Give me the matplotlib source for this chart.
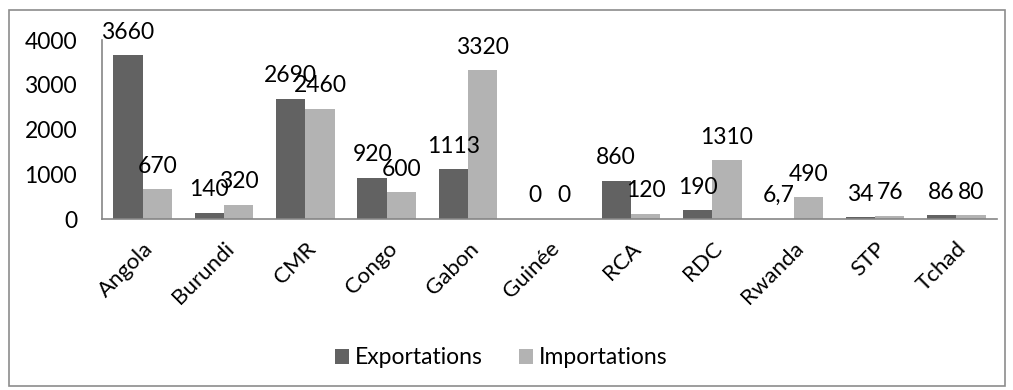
from matplotlib import pyplot as plt
from matplotlib.patches import Rectangle
import numpy as np

plt.rcParams['font.family'] = ['Lato', 'DejaVu Sans']

pays = ['Angola', 'Burundi', 'CMR', 'Congo', 'Gabon', 'Guinée', 'RCA', 'RDC',
        'Rwanda', 'STP', 'Tchad']
exportations = [3660, 140, 2690, 920, 1113, 0, 860, 190, 6.7, 34, 86]
importations = [670, 320, 2460, 600, 3320, 0, 120, 1310, 490, 76, 80]
lab_exp = ['3660', '140', '2690', '920', '1113', '0', '860', '190', '6,7', '34', '86']
lab_imp = ['670', '320', '2460', '600', '3320', '0', '120', '1310', '490', '76', '80']
yticks = [0, 1000, 2000, 3000, 4000]

fig = plt.figure(figsize=(10.13, 3.9), dpi=100)
fig.patches.append(Rectangle((9/1013, 1-386/390), 996/1013, 376/390, transform=fig.transFigure,
                             fill=False, edgecolor='#8c8c8c', linewidth=1.2))
ax = fig.add_axes([102/1013, 1-219/390, 895/1013, 179/390])

x = np.arange(len(pays))
w = 0.36
b1 = ax.bar(x - w/2, exportations, w, color='#626262', label='Exportations')
b2 = ax.bar(x + w/2, importations, w, color='#b3b3b3', label='Importations')

for bars, labs in [(b1, lab_exp), (b2, lab_imp)]:
    for r, t in zip(bars, labs):
        ax.annotate(t, (r.get_x() + r.get_width()/2, r.get_height()), xytext=(0, 9),
                    textcoords='offset points', ha='center', va='bottom', fontsize=16.5)

ax.set_xlim(-0.5, len(pays) - 0.5)
ax.set_ylim(0, 4000)
ax.set_yticks(yticks)
ax.set_xticks(x)
ax.set_xticklabels(pays, rotation=45, ha='right', rotation_mode='anchor')
ax.tick_params(axis='both', length=0)
ax.tick_params(axis='x', pad=14, labelsize=16)
ax.tick_params(axis='y', pad=18, labelsize=16.5)
for s in ['top', 'right']:
    ax.spines[s].set_visible(False)
for s in ['left', 'bottom']:
    ax.spines[s].set_color('#868686')
    ax.spines[s].set_linewidth(1.2)

fig.legend(loc='center', bbox_to_anchor=(501/1013, 1-358/390), ncol=2, frameon=False,
           fontsize=16.5, handlelength=0.6, handleheight=0.6, handletextpad=0.25, columnspacing=1.6)

plt.savefig('out.png', dpi=100)
